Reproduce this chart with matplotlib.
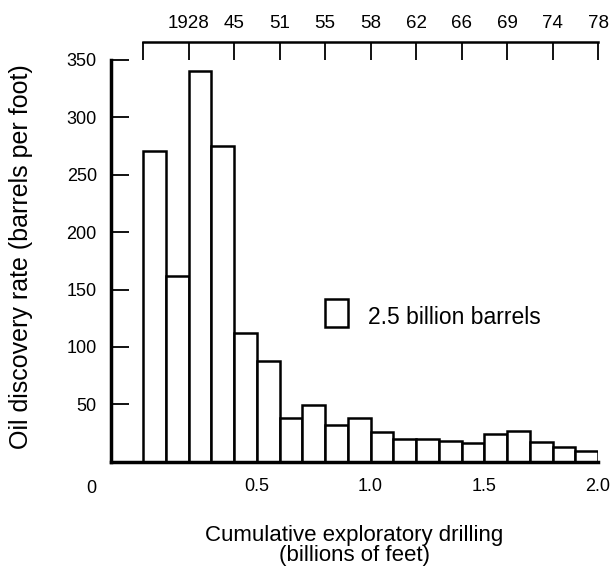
import matplotlib.pyplot as plt
from matplotlib.patches import Rectangle

plt.rcParams['font.family'] = ['Liberation Sans', 'DejaVu Sans']

# bins of 0.1 billion feet of exploratory drilling
bin_left = [0.0, 0.1, 0.2, 0.3, 0.4, 0.5, 0.6, 0.7, 0.8, 0.9,
            1.0, 1.1, 1.2, 1.3, 1.4, 1.5, 1.6, 1.7, 1.8, 1.9]
discovery_rate = [271, 162, 340, 275, 112, 88, 38, 49, 32, 38,
                  26, 20, 20, 18, 16, 24, 27, 17, 13, 9]

x_ticks = [0.5, 1.0, 1.5, 2.0]
x_labels = ['0.5', '1.0', '1.5', '2.0']
y_ticks = [50, 100, 150, 200, 250, 300, 350]

year_ticks = [0.0, 0.2, 0.4, 0.6, 0.8, 1.0, 1.2, 1.4, 1.6, 1.8, 2.0]
year_labels = ['', '1928', '45', '51', '55', '58', '62', '66', '69', '74', '78']

fig = plt.figure(figsize=(6.13, 5.71), dpi=100)
ax = fig.add_axes([110.7 / 613, (571 - 461.7) / 571,
                   (598 - 110.7) / 613, (461.7 - 60) / 571])

ax.bar(bin_left, discovery_rate, width=0.1, align='edge',
       facecolor='white', edgecolor='black', linewidth=1.8)

ax.set_xlim(-0.143, 2.0)
ax.set_ylim(0, 350)

for s in ['right', 'top']:
    ax.spines[s].set_visible(False)
ax.spines['left'].set_linewidth(2.5)
ax.spines['bottom'].set_linewidth(2.5)

ax.set_yticks(y_ticks)
ax.tick_params(axis='y', direction='in', length=13, width=1.3,
               labelsize=13, pad=10)
ax.set_xticks(x_ticks)
ax.set_xticklabels(x_labels)
ax.tick_params(axis='x', length=0, labelsize=13, pad=12)

# origin label sits left of the axis
ax.text(-0.04, -0.066, '0', transform=ax.transAxes, fontsize=13,
        ha='center', va='center')

# calendar years on top
top = ax.twiny()
top.set_xlim(ax.get_xlim())
for s in ['left', 'right', 'bottom']:
    top.spines[s].set_visible(False)
top.spines['top'].set_position(('outward', 13))
top.spines['top'].set_bounds(0, 2.0)
top.spines['top'].set_linewidth(1.8)
top.set_xticks(year_ticks)
top.set_xticklabels(year_labels)
top.tick_params(axis='x', direction='in', length=13, width=1.3,
                labelsize=13.5, pad=7)

# scale square
ax.add_patch(Rectangle((0.8, 117), 0.1, 25, facecolor='white',
                       edgecolor='black', linewidth=1.8))
ax.text(0.988, 126, '2.5 billion barrels', fontsize=16.5, va='center')

ax.set_ylabel('Oil discovery rate (barrels per foot)', fontsize=18)
ax.yaxis.set_label_coords(-0.16, 0.51)
ax.set_xlabel('Cumulative exploratory drilling\n(billions of feet)',
              fontsize=16, linespacing=0.95)
ax.xaxis.set_label_coords(0.5, -0.158)

fig.savefig('out.png', dpi=100)
